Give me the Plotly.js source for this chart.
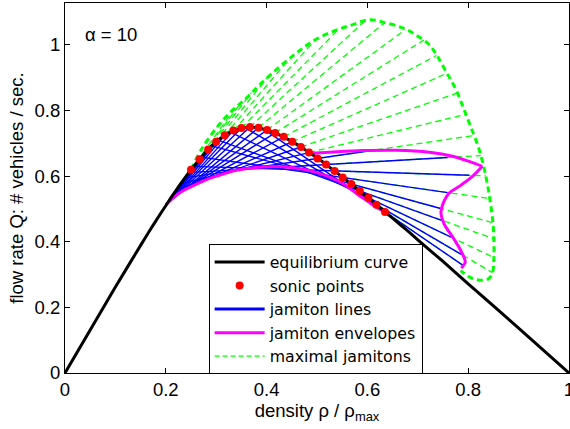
<!DOCTYPE html>
<html><head><meta charset="utf-8">
<script src="https://cdn.plot.ly/plotly-3.0.1.min.js"></script>
<style>html,body{margin:0;padding:0;background:#fff}#chart{width:570px;height:429px}</style>
</head><body><div id="chart"></div>
<script>
// equilibrium curve Q(rho)
const eqRho = [0,0.1,0.15,0.17,0.18,0.19,0.2,0.21,0.22,0.23,0.25,0.26,0.28,0.3,0.32,0.33,0.34,0.36,0.38,0.4,0.42,0.45,0.48,0.5,0.52,0.55,0.58,0.6,0.62,0.65,0.68,0.7,0.75,0.8,0.9,1];
const eqQ = [0,0.262,0.389,0.439,0.463,0.487,0.510,0.534,0.556,0.578,0.620,0.639,0.675,0.705,0.728,0.736,0.742,0.749,0.748,0.741,0.730,0.706,0.677,0.656,0.633,0.598,0.561,0.536,0.510,0.472,0.433,0.406,0.340,0.272,0.137,0];
// sonic points
const sonicRho = [0.250,0.267,0.284,0.300,0.317,0.334,0.350,0.367,0.384,0.401,0.417,0.434,0.451,0.468,0.484,0.501,0.518,0.535,0.551,0.568,0.585,0.602,0.618,0.635];
const sonicQ = [0.620,0.652,0.681,0.705,0.725,0.739,0.747,0.750,0.748,0.741,0.732,0.720,0.705,0.689,0.672,0.654,0.636,0.616,0.596,0.576,0.555,0.534,0.513,0.491];
// jamiton lines: start (A) and end (B) states
const jamRhoA = [0.2,0.2,0.2,0.2,0.2,0.2,0.2,0.2,0.2,0.205,0.207,0.211,0.216,0.221,0.231,0.238,0.246,0.255,0.27,0.288,0.305,0.328,0.356,0.392];
const jamQA = [0.512,0.512,0.512,0.512,0.512,0.511,0.512,0.512,0.512,0.524,0.530,0.537,0.545,0.559,0.577,0.595,0.611,0.630,0.658,0.694,0.709,0.734,0.749,0.746];
const jamRhoB = [0.250,0.267,0.284,0.300,0.317,0.334,0.350,0.367,0.384,0.401,0.417,0.434,0.451,0.468,0.490,0.615,0.759,0.802,0.759,0.749,0.750,0.766,0.787,0.789];
const jamQB = [0.620,0.652,0.681,0.705,0.725,0.739,0.747,0.750,0.748,0.741,0.732,0.720,0.705,0.689,0.674,0.680,0.657,0.603,0.550,0.500,0.464,0.414,0.361,0.329];
// maximal jamitons: from sonic point to maximal end state
const maxRho = [0.341,0.351,0.370,0.400,0.443,0.498,0.545,0.597,0.634,0.675,0.712,0.737,0.758,0.779,0.796,0.811,0.825,0.835,0.842,0.849,0.851,0.851,0.848,0.790];
const maxQ = [0.815,0.828,0.855,0.898,0.954,1.018,1.051,1.076,1.068,1.046,1.015,0.968,0.914,0.854,0.789,0.724,0.663,0.601,0.532,0.458,0.409,0.352,0.306,0.328];
// envelope of maximal jamitons
const maxEnvRho = [0.25,0.27,0.30,0.333,0.36,0.386,0.426,0.459,0.491,0.531,0.571,0.604,0.637,0.67,0.696,0.723,0.739,0.756,0.776,0.792,0.805,0.822,0.835,0.843,0.849,0.851,0.851,0.848,0.84,0.822,0.802,0.785];
const maxEnvQ = [0.620,0.680,0.746,0.802,0.838,0.878,0.934,0.975,1.011,1.041,1.062,1.077,1.067,1.052,1.031,1.000,0.965,0.919,0.863,0.802,0.751,0.680,0.600,0.530,0.460,0.400,0.350,0.305,0.287,0.283,0.293,0.312];
// jamiton envelopes
const envLowRho = [0.2,0.215,0.23,0.25,0.275,0.3,0.34,0.39,0.43,0.47,0.5,0.53,0.555,0.58,0.6,0.62,0.635];
const envLowQ = [0.512,0.535,0.552,0.568,0.586,0.600,0.618,0.628,0.629,0.622,0.611,0.594,0.574,0.545,0.524,0.503,0.491];
const envUpRho = [0.49,0.525,0.591,0.657,0.723,0.769,0.802,0.828];
const envUpQ = [0.670,0.673,0.678,0.679,0.673,0.661,0.645,0.630];
const envRightRho = [0.828,0.809,0.785,0.762,0.749,0.746,0.752,0.772,0.787,0.794,0.786];
const envRightQ = [0.630,0.600,0.572,0.548,0.512,0.487,0.455,0.408,0.368,0.338,0.320];

function segs(x0, y0, x1, y1){
  const x=[], y=[];
  for(let i=0;i<x0.length;i++){ x.push(x0[i],x1[i],null); y.push(y0[i],y1[i],null); }
  return {x:x, y:y};
}
const blue = segs(jamRhoA, jamQA, jamRhoB, jamQB);
const green = segs(sonicRho, sonicQ, maxRho, maxQ);
const dash = '6px,4px';
const traces = [
 {x:green.x,y:green.y,mode:'lines',line:{color:'#00ff00',width:1.3,dash:dash},showlegend:false,hoverinfo:'skip'},
 {x:maxEnvRho,y:maxEnvQ,mode:'lines',line:{color:'#00ff00',width:3,dash:dash,shape:'spline'},showlegend:false,hoverinfo:'skip'},
 {x:blue.x,y:blue.y,mode:'lines',line:{color:'#0000ff',width:1.4},showlegend:false,hoverinfo:'skip'},
 {x:envLowRho,y:envLowQ,mode:'lines',line:{color:'#ff00ff',width:3,shape:'spline'},showlegend:false,hoverinfo:'skip'},
 {x:envUpRho,y:envUpQ,mode:'lines',line:{color:'#ff00ff',width:3,shape:'spline'},showlegend:false,hoverinfo:'skip'},
 {x:envRightRho,y:envRightQ,mode:'lines',line:{color:'#ff00ff',width:3,shape:'spline'},showlegend:false,hoverinfo:'skip'},
 {x:eqRho,y:eqQ,mode:'lines',name:'equilibrium curve',line:{color:'#000',width:3,shape:'spline',smoothing:0.5},legendrank:1},
 {x:sonicRho,y:sonicQ,mode:'markers',name:'sonic points',marker:{color:'#ff0000',size:8},legendrank:2},
 {x:[null],y:[null],mode:'lines',name:'jamiton lines',line:{color:'#0000ff',width:3},legendrank:3},
 {x:[null],y:[null],mode:'lines',name:'jamiton envelopes',line:{color:'#ff00ff',width:3},legendrank:4},
 {x:[null],y:[null],mode:'lines',name:'maximal jamitons',line:{color:'#00ff00',width:1.3,dash:'5px,3px'},legendrank:5}
];
const ax = {showline:true,linecolor:'#000',linewidth:1,mirror:'ticks',ticks:'inside',ticklen:5,tickcolor:'#000',showgrid:false,zeroline:false,tickfont:{size:18.5},ticklabeloverflow:'allow'};
const layout = {
 width:570,height:429,margin:{l:65,r:1,t:3,b:56},
 paper_bgcolor:'#fff',plot_bgcolor:'#fff',
 font:{family:'"Liberation Sans", Arial, sans-serif',size:18.5,color:'#000'},
 xaxis:Object.assign({},ax,{range:[0,1],tickvals:[0,0.2,0.4,0.6,0.8,1],ticktext:['0','0.2','0.4','0.6','0.8','1'],title:{text:'density ρ / ρ<sub>max</sub>',font:{size:18.5},standoff:2}}),
 yaxis:Object.assign({},ax,{range:[0,1.128],tickvals:[0,0.2,0.4,0.6,0.8,1],ticktext:['0','0.2','0.4','0.6','0.8','1'],title:{text:'flow rate Q: # vehicles / sec.',font:{size:18.5},standoff:6}}),
 legend:{x:0.285,y:0.348,xanchor:'left',yanchor:'top',bordercolor:'#000',borderwidth:1,bgcolor:'#fff',font:{family:'"DejaVu Sans", sans-serif',size:15.8},traceorder:'normal',itemwidth:50},
 annotations:[{text:'α = 10',x:0.035,y:0.915,xref:'paper',yref:'paper',showarrow:false,xanchor:'left',yanchor:'middle',font:{size:18.5}}],
 showlegend:true
};
Plotly.newPlot('chart',traces,layout,{staticPlot:true});
</script></body></html>
